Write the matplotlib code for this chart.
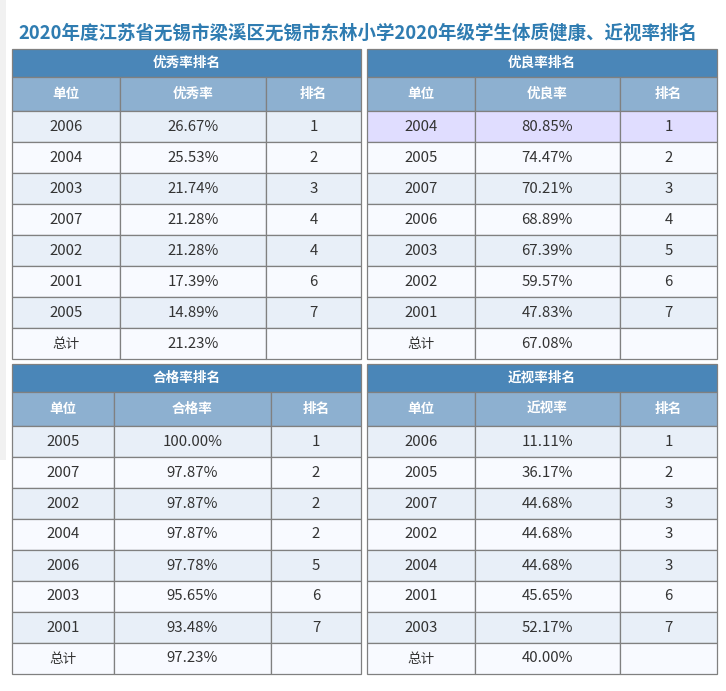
import matplotlib.pyplot as plt
from matplotlib.patches import Rectangle

plt.rcParams['font.family'] = ['Noto Sans CJK SC', 'DejaVu Sans']

title = '2020年度江苏省无锡市梁溪区无锡市东林小学2020年级学生体质健康、近视率排名'

# 优秀率排名
excellent_units = ['2006', '2004', '2003', '2007', '2002', '2001', '2005']
excellent_rates = [26.67, 25.53, 21.74, 21.28, 21.28, 17.39, 14.89]
excellent_ranks = [1, 2, 3, 4, 4, 6, 7]
excellent_total = 21.23

# 优良率排名
good_units = ['2004', '2005', '2007', '2006', '2003', '2002', '2001']
good_rates = [80.85, 74.47, 70.21, 68.89, 67.39, 59.57, 47.83]
good_ranks = [1, 2, 3, 4, 5, 6, 7]
good_total = 67.08

# 合格率排名
pass_units = ['2005', '2007', '2002', '2004', '2006', '2003', '2001']
pass_rates = [100.00, 97.87, 97.87, 97.87, 97.78, 95.65, 93.48]
pass_ranks = [1, 2, 2, 2, 5, 6, 7]
pass_total = 97.23

# 近视率排名
myopia_units = ['2006', '2005', '2007', '2002', '2004', '2001', '2003']
myopia_rates = [11.11, 36.17, 44.68, 44.68, 44.68, 45.65, 52.17]
myopia_ranks = [1, 2, 3, 3, 3, 6, 7]
myopia_total = 40.00

# colours
title_color = '#2f7cb1'
bar_color = '#4a86b8'
head_color = '#8db0d0'
row_a = '#e8eff8'
row_b = '#f8faff'
highlight = '#e0ddff'
edge = '#808080'
text_color = '#333333'

W, H = 726, 691
fig = plt.figure(figsize=(W / 100, H / 100), dpi=100)
ax = fig.add_axes([0, 0, 1, 1])
ax.set_xlim(0, W)
ax.set_ylim(H, 0)
ax.axis('off')

# faint page shadow at the left edge
ax.add_patch(Rectangle((0, 0), 6, 460, facecolor='#f1f1f1', edgecolor='none'))

ax.text(358, 33, title, ha='center', va='center', fontsize=13.3,
        fontweight='bold', color=title_color)


def draw_table(x0, y0, col_edges, name, col2, units, rates, ranks, total,
               highlight_first=False):
    width = col_edges[-1]
    bar_h, head_h, row_h = 28, 34, 31
    lw = 0.9
    # title bar
    ax.add_patch(Rectangle((x0, y0), width, bar_h, facecolor=bar_color,
                           edgecolor=edge, lw=lw))
    ax.text(x0 + width / 2, y0 + bar_h / 2, name, ha='center', va='center',
            fontsize=9.8, fontweight='bold', color='white')
    # header
    y = y0 + bar_h
    headers = ['单位', col2, '排名']
    for i, h in enumerate(headers):
        cx = x0 + col_edges[i]
        cw = col_edges[i + 1] - col_edges[i]
        ax.add_patch(Rectangle((cx, y), cw, head_h, facecolor=head_color,
                               edgecolor=edge, lw=lw))
        ax.text(cx + cw / 2, y + head_h / 2, h, ha='center', va='center',
                fontsize=9.8, fontweight='bold', color='white')
    y += head_h
    rows = [(u, '%.2f%%' % r, str(k)) for u, r, k in zip(units, rates, ranks)]
    rows.append(('总计', '%.2f%%' % total, ''))
    for j, row in enumerate(rows):
        fc = row_a if j % 2 == 0 else row_b
        if highlight_first and j == 0:
            fc = highlight
        for i, val in enumerate(row):
            cx = x0 + col_edges[i]
            cw = col_edges[i + 1] - col_edges[i]
            ax.add_patch(Rectangle((cx, y), cw, row_h, facecolor=fc,
                                   edgecolor=edge, lw=lw))
            fs = 9.8 if val == '总计' else 10.8
            ax.text(cx + cw / 2, y + row_h / 2, val, ha='center', va='center',
                    fontsize=fs, color=text_color)
        y += row_h


draw_table(12, 49, [0, 108, 254, 349], '优秀率排名', '优秀率',
           excellent_units, excellent_rates, excellent_ranks, excellent_total)
draw_table(367, 49, [0, 107.5, 253, 350], '优良率排名', '优良率',
           good_units, good_rates, good_ranks, good_total, highlight_first=True)
draw_table(12, 364, [0, 102, 259, 349], '合格率排名', '合格率',
           pass_units, pass_rates, pass_ranks, pass_total)
draw_table(367, 364, [0, 107.5, 253, 350], '近视率排名', '近视率',
           myopia_units, myopia_rates, myopia_ranks, myopia_total)

fig.savefig('out.png', dpi=100, facecolor='white')
